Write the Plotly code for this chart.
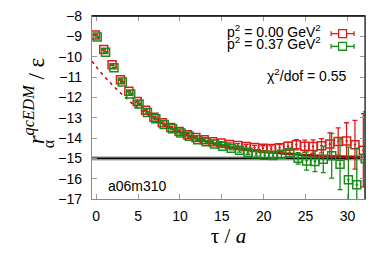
import plotly.graph_objects as go

# ---------------- data ----------------
tau = list(range(33))
red_vals = [-8.93, -9.65, -10.40, -11.13, -11.70, -12.20, -12.64, -12.98, -13.25, -13.48,
            -13.68, -13.84, -13.98, -14.09, -14.18, -14.25, -14.32, -14.37, -14.42, -14.47,
            -14.50, -14.52, -14.48, -14.40, -14.33, -14.40, -14.42, -14.38, -14.30, -14.17,
            -14.15, -14.33, -14.60]
red_err = [0.03, 0.03, 0.03, 0.03, 0.03, 0.03, 0.04, 0.04, 0.04, 0.04,
           0.05, 0.05, 0.05, 0.06, 0.06, 0.07, 0.08, 0.09, 0.10, 0.11,
           0.12, 0.13, 0.16, 0.20, 0.25, 0.30, 0.33, 0.35, 0.55, 0.67,
           0.90, 1.20, 1.80]
green_vals = [-9.03, -9.78, -10.55, -11.25, -11.83, -12.33, -12.74, -13.05, -13.33, -13.55,
              -13.76, -13.92, -14.08, -14.19, -14.30, -14.40, -14.50, -14.60, -14.70, -14.78,
              -14.85, -14.86, -14.80, -14.72, -15.00, -15.13, -15.15, -15.05, -14.87, -15.29,
              -16.05, -16.30, -15.02]
green_err = [0.03, 0.03, 0.03, 0.03, 0.03, 0.03, 0.04, 0.04, 0.04, 0.04,
             0.05, 0.05, 0.05, 0.06, 0.06, 0.07, 0.08, 0.09, 0.10, 0.11,
             0.12, 0.14, 0.17, 0.22, 0.28, 0.45, 0.50, 0.65, 1.10, 1.25,
             1.60, 1.80, 2.30]
fit_tau = [-0.5, 0, 1, 2, 3, 4, 5, 6, 7, 8, 9, 10, 11, 12, 13, 14, 15, 16, 17, 18, 19,
           20, 21, 22, 23, 24, 25, 26, 27, 28, 29, 30, 31, 31.5]
fit_vals = [-10.22, -10.50, -10.98, -11.42, -11.82, -12.20, -12.52, -12.82, -13.08, -13.32,
            -13.53, -13.72, -13.88, -14.02, -14.15, -14.27, -14.37, -14.45, -14.52, -14.58,
            -14.63, -14.67, -14.71, -14.75, -14.78, -14.81, -14.84, -14.86, -14.88, -14.90,
            -14.91, -14.92, -14.93, -14.93]
fit_start = 8
plateau = -15.0
plateau_err = 0.12
chi2_dof = 0.55
ensemble = "a06m310"
series_names = ["p<sup>2</sup> = 0.00 GeV<sup>2</sup>", "p<sup>2</sup> = 0.37 GeV<sup>2</sup>"]
x_ticks = [0, 5, 10, 15, 20, 25, 30]
y_ticks = list(range(-17, -7))

RED = "#e01b1b"
GREEN = "#1a8c1a"
FITRED = "#c40000"
W, H = 374, 261
ML, MR, MT, MB = 92, 8, 12, 62
PW, PH = W - ML - MR, H - MT - MB

def px_x(p):
    return (p - ML) / PW

def px_y(p):
    return (H - MB - p) / PH

fig = go.Figure()

# plateau band + line
fig.add_shape(type="rect", xref="paper", yref="y", x0=0, x1=1,
              y0=plateau - plateau_err, y1=plateau + plateau_err,
              fillcolor="rgba(150,150,150,0.55)", line_width=0, layer="below")
fig.add_shape(type="line", xref="paper", yref="y", x0=0, x1=1, y0=plateau, y1=plateau,
              line=dict(color="black", width=1.6), layer="below")

# fit curve
dx = [t for t in fit_tau if t <= fit_start]
dy = [v for t, v in zip(fit_tau, fit_vals) if t <= fit_start]
sx = [t for t in fit_tau if t >= fit_start]
sy = [v for t, v in zip(fit_tau, fit_vals) if t >= fit_start]
fig.add_trace(go.Scatter(x=dx, y=dy, mode="lines", line=dict(color=FITRED, width=1.5, dash="3px,4px", shape="spline"),
                         showlegend=False, hoverinfo="skip"))
fig.add_trace(go.Scatter(x=sx, y=sy, mode="lines", line=dict(color=FITRED, width=2.6, shape="spline"),
                         showlegend=False, hoverinfo="skip"))

# data
for vals, errs, col, off in [(red_vals, red_err, RED, -0.1), (green_vals, green_err, GREEN, 0.12)]:
    fig.add_trace(go.Scatter(
        x=[t + off for t in tau], y=vals, mode="markers",
        marker=dict(symbol="square-open-dot", size=8, color=col, line=dict(width=1.5, color=col)),
        error_y=dict(type="data", array=errs, visible=True, color=col, thickness=1.3, width=2.5),
        showlegend=False))

# legend (drawn manually: text right-aligned, key to the right)
leg_text_y = [27.5, 40]
leg_key_y = [30, 43]
for name, col, ty, ky in zip(series_names, [RED, GREEN], leg_text_y, leg_key_y):
    fig.add_annotation(xref="paper", yref="paper", x=px_x(324), y=px_y(ty), text=name,
                       showarrow=False, xanchor="right", yanchor="middle",
                       font=dict(family="Liberation Sans, Arial", size=14, color="black"))
    fig.add_shape(type="line", xref="paper", yref="paper", x0=px_x(332), x1=px_x(355),
                  y0=px_y(ky), y1=px_y(ky), line=dict(color=col, width=1.3))
    for xe in (332, 355):
        fig.add_shape(type="line", xref="paper", yref="paper", x0=px_x(xe), x1=px_x(xe),
                      y0=px_y(ky - 2.5), y1=px_y(ky + 2.5), line=dict(color=col, width=1.3))
    fig.add_shape(type="rect", xref="paper", yref="paper", x0=px_x(339.5), x1=px_x(347.5),
                  y0=px_y(ky - 4), y1=px_y(ky + 4), line=dict(color=col, width=1.3), fillcolor="white")

fig.add_annotation(xref="paper", yref="paper", x=px_x(350), y=px_y(72.5),
                   text="χ<sup>2</sup>/dof = %.2f" % chi2_dof, showarrow=False,
                   xanchor="right", yanchor="middle",
                   font=dict(family="Liberation Sans, Arial", size=14, color="black"))
fig.add_annotation(xref="paper", yref="paper", x=px_x(106), y=px_y(186),
                   text=ensemble, showarrow=False, xanchor="left", yanchor="middle",
                   font=dict(family="Liberation Sans, Arial", size=14, color="black"))

# y title (stacked sub/sup)
fig.add_annotation(xref="paper", yref="paper", x=px_x(34), y=px_y(99),
                   text="<i>r<sup>qcEDM</sup></i> / ε", textangle=-90, showarrow=False,
                   xanchor="center", yanchor="middle",
                   font=dict(family="Liberation Serif, Times New Roman", size=23, color="black"))
fig.add_annotation(xref="paper", yref="paper", x=px_x(48), y=px_y(143),
                   text="α", textangle=-90, showarrow=False,
                   xanchor="center", yanchor="middle",
                   font=dict(family="Liberation Serif, Times New Roman", size=16, color="black"))

# frame: top and right black
fig.add_shape(type="line", xref="paper", yref="paper", x0=0, x1=1, y0=1, y1=1, line=dict(color="black", width=1.3))
fig.add_shape(type="line", xref="paper", yref="paper", x0=1, x1=1, y0=0, y1=1, line=dict(color="#333333", width=1.3))

axis_font = dict(family="Liberation Sans, Arial", size=14, color="black")
fig.update_xaxes(range=[-0.5, 32.1], tickvals=x_ticks, ticks="inside", ticklen=5, tickcolor="#999999",
                 showline=True, linecolor="#888888", linewidth=1.3, mirror="ticks", showgrid=False,
                 zeroline=False, tickfont=axis_font, ticklabelstandoff=4, ticklabeloverflow="allow",
                 title=dict(text="τ / <i>a</i>", font=dict(family="Liberation Serif, Times New Roman", size=21, color="black"),
                            standoff=4))
fig.update_yaxes(range=[-17, -8], tickvals=y_ticks, ticks="inside", ticklen=5, tickcolor="#999999",
                 showline=True, linecolor="#888888", linewidth=1.3, mirror="ticks", showgrid=False,
                 zeroline=False, tickfont=axis_font, ticklabelstandoff=6, ticklabeloverflow="allow")
fig.update_layout(width=W, height=H, margin=dict(l=ML, r=MR, t=MT, b=MB),
                  paper_bgcolor="white", plot_bgcolor="white", showlegend=False)
fig.write_html("out.html", config={"displayModeBar": False},
               post_script="document.body.style.margin='0';document.body.style.overflow='hidden';")
